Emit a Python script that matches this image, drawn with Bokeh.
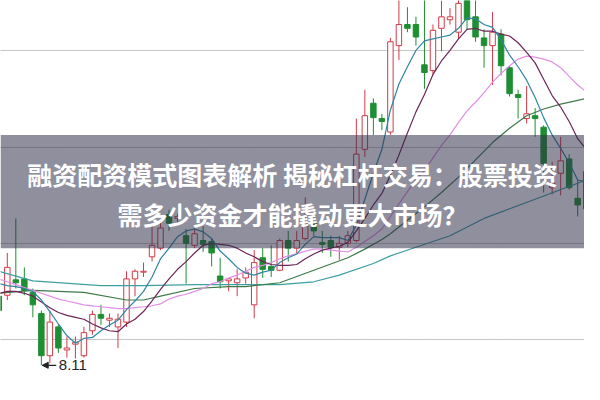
from bokeh.plotting import figure
from bokeh.models import (Range1d, FixedTicker, BoxAnnotation, Label, Arrow,
                          NormalHead, ColumnDataSource)
from bokeh.embed import file_html
from bokeh.resources import INLINE

# ---------------- data (daily candles) ----------------
day = list(range(70))
open_ = [8.83, 8.84, 9.00, 9.01, 8.87, 8.65, 8.21, 8.51, 8.27, 8.33,
         8.21, 8.47, 8.64, 8.58, 8.51, 8.56, 9.01, 9.08, 9.24, 9.33,
         9.68, 9.64, 9.46, 9.36, 9.41, 9.40, 9.04, 8.99, 8.97, 9.02,
         8.74, 9.23, 9.14, 9.10, 9.41, 9.33, 9.43, 9.59, 9.39, 9.41,
         9.34, 9.38, 9.41, 10.36, 10.84, 10.68, 10.54, 11.44, 11.66, 11.66,
         11.24, 11.18, 11.62, 11.71, 11.58, 11.96, 11.74, 11.52, 11.44, 11.56,
         11.21, 10.93, 10.68, 10.71, 10.59, 9.96, 10.11, 10.26, 9.85, 9.74]
high = [8.91, 9.28, 9.64, 9.13, 8.91, 8.68, 8.68, 8.54, 8.41, 8.41,
        8.51, 8.68, 8.74, 8.65, 8.65, 9.09, 9.11, 9.18, 9.58, 9.61,
        9.73, 9.69, 9.53, 9.54, 9.56, 9.43, 9.23, 9.02, 9.11, 9.13,
        9.31, 9.33, 9.36, 9.43, 9.51, 9.51, 9.86, 9.68, 9.51, 9.46,
        9.46, 9.51, 10.68, 10.98, 10.89, 10.73, 11.52, 11.96, 11.84, 11.74,
        12.01, 11.66, 11.91, 11.83, 11.96, 12.01, 11.96, 11.61, 11.79, 11.61,
        11.23, 10.98, 11.02, 10.79, 10.61, 10.23, 10.49, 10.31, 10.04, 10.21]
low = [8.61, 8.79, 8.91, 8.84, 8.61, 8.11, 8.13, 8.24, 8.19, 8.18,
       8.19, 8.43, 8.53, 8.51, 8.29, 8.51, 8.83, 9.03, 9.19, 9.31,
       9.51, 9.58, 8.96, 9.33, 9.29, 9.14, 8.91, 8.88, 8.83, 8.96,
       8.60, 9.02, 9.03, 9.09, 9.19, 9.28, 9.41, 9.46, 9.28, 9.24,
       9.21, 9.34, 9.39, 10.28, 10.51, 10.56, 10.51, 11.29, 11.58, 11.44,
       10.99, 11.14, 11.38, 11.66, 11.51, 11.61, 11.48, 11.21, 11.03, 11.13,
       10.91, 10.68, 10.63, 10.49, 9.91, 9.89, 9.88, 9.94, 9.66, 9.71]
close = [8.68, 9.13, 8.97, 8.89, 8.74, 8.21, 8.56, 8.29, 8.29, 8.35,
         8.45, 8.64, 8.60, 8.60, 8.59, 9.01, 9.09, 9.09, 9.36, 9.54,
         9.59, 9.66, 9.38, 9.48, 9.37, 9.28, 8.98, 9.01, 9.01, 9.08,
         9.18, 9.11, 9.10, 9.41, 9.33, 9.41, 9.59, 9.51, 9.37, 9.34,
         9.38, 9.46, 10.31, 10.71, 10.69, 10.65, 11.48, 11.66, 11.62, 11.53,
         11.16, 11.60, 11.74, 11.74, 11.88, 11.71, 11.53, 11.44, 11.58, 11.23,
         10.94, 10.90, 10.73, 10.68, 10.21, 10.01, 10.24, 9.96, 9.78, 10.13]

# moving-average lines
ma5 = [8.96, 8.94, 8.93, 8.91, 8.88, 8.79, 8.67, 8.54, 8.42, 8.34,
       8.39, 8.40, 8.47, 8.53, 8.58, 8.69, 8.78, 8.88, 9.03, 9.22,
       9.33, 9.45, 9.51, 9.53, 9.50, 9.43, 9.30, 9.22, 9.13, 9.07,
       9.05, 9.08, 9.10, 9.18, 9.23, 9.27, 9.37, 9.45, 9.44, 9.44,
       9.44, 9.41, 9.57, 9.84, 10.11, 10.36, 10.77, 11.04, 11.22, 11.39,
       11.49, 11.51, 11.53, 11.55, 11.62, 11.73, 11.72, 11.66, 11.63, 11.50,
       11.34, 11.22, 11.08, 10.90, 10.69, 10.51, 10.37, 10.22, 10.04, 10.02]
ma10 = [8.86, 8.88, 8.88, 8.86, 8.83, 8.77, 8.71, 8.66, 8.63, 8.61,
        8.59, 8.54, 8.50, 8.47, 8.46, 8.54, 8.59, 8.67, 8.78, 8.90,
        9.01, 9.11, 9.19, 9.28, 9.36, 9.38, 9.37, 9.36, 9.33, 9.28,
        9.24, 9.19, 9.16, 9.15, 9.15, 9.16, 9.22, 9.27, 9.31, 9.33,
        9.35, 9.39, 9.51, 9.64, 9.78, 9.90, 10.09, 10.30, 10.53, 10.75,
        10.93, 11.14, 11.28, 11.39, 11.51, 11.61, 11.62, 11.59, 11.59, 11.56,
        11.54, 11.47, 11.37, 11.26, 11.09, 10.92, 10.80, 10.65, 10.47, 10.36]
ma20 = [9.01, 8.98, 8.95, 8.92, 8.89, 8.86, 8.83, 8.80, 8.78, 8.76,
        8.74, 8.73, 8.72, 8.71, 8.70, 8.70, 8.71, 8.72, 8.73, 8.75,
        8.80, 8.83, 8.85, 8.88, 8.91, 8.96, 8.98, 9.02, 9.05, 9.09,
        9.13, 9.15, 9.18, 9.22, 9.25, 9.27, 9.30, 9.32, 9.32, 9.31,
        9.30, 9.29, 9.34, 9.40, 9.46, 9.53, 9.66, 9.79, 9.92, 10.04,
        10.14, 10.27, 10.40, 10.51, 10.64, 10.76, 10.85, 10.95, 11.06, 11.15,
        11.23, 11.30, 11.33, 11.32, 11.30, 11.27, 11.21, 11.12, 11.03, 10.96]
ma30_day = [0, 4, 10, 15, 17, 19, 23, 27, 29, 33, 37, 41, 43, 45, 46, 48, 50,
            52, 54, 56, 58, 60, 62, 64, 66, 68, 69]
ma30 = [8.86, 8.89, 8.87, 8.79, 8.79, 8.83, 8.91, 8.93, 8.93, 8.97, 9.10,
        9.23, 9.32, 9.42, 9.48, 9.62, 9.76, 9.91, 10.07, 10.25, 10.43, 10.58,
        10.71, 10.78, 10.83, 10.87, 10.89]
ma60_day = [0, 4, 12, 17, 23, 29, 33, 37, 40, 44, 46, 49, 53, 57, 63, 69]
ma60 = [9.09, 8.99, 8.94, 8.94, 8.95, 8.95, 8.95, 8.98, 9.05, 9.17, 9.25,
        9.34, 9.46, 9.64, 9.84, 10.04]

grid_levels = [8.38, 9.38, 10.38, 11.39]
title_lines = ["融资配资模式图表解析 揭秘杠杆交易：股票投资",
               "需多少资金才能撬动更大市场？"]

# ---------------- layout constants ----------------
X_LEFT, X_RIGHT = 0.2, 68.8
Y_BOT, Y_TOP = 7.91, 11.91
REF_H = 400.0


def y_at(px):
    return Y_TOP - px / REF_H * (Y_TOP - Y_BOT)


RED = "#d23a47"
GREEN = "#1e8e32"

p = figure(width=584, height=384, output_backend="svg", toolbar_location=None,
           x_range=Range1d(X_LEFT, X_RIGHT), y_range=Range1d(Y_BOT, Y_TOP),
           min_border=0, background_fill_color="white",
           border_fill_color="white")
p.outline_line_color = None
p.xaxis.visible = False
p.yaxis.visible = False
p.xgrid.visible = False
p.ygrid.ticker = FixedTicker(ticks=grid_levels)
p.ygrid.grid_line_color = "#8c8c8c"
p.ygrid.grid_line_dash = "1 1"
p.ygrid.grid_line_width = 1

up = [c >= o for o, c in zip(open_, close)]
src = ColumnDataSource(dict(
    x=day, high=high, low=low,
    top=[max(o, c) for o, c in zip(open_, close)],
    bottom=[min(o, c) for o, c in zip(open_, close)],
    color=[RED if u else GREEN for u in up],
    fill=["white" if u else GREEN for u in up],
))
p.segment(x0="x", y0="high", x1="x", y1="low", line_color="color",
          line_width=1, source=src)
p.vbar(x="x", width=0.64, top="top", bottom="bottom", fill_color="fill",
       line_color="color", line_width=1, source=src)

p.line(ma60_day, ma60, line_color="#3c9fa2", line_width=1.2)
p.line(ma30_day, ma30, line_color="#3d7a48", line_width=1.2)
p.line(day, ma20, line_color="#e28fe6", line_width=1.2)
p.line(day, ma10, line_color="#6e2658", line_width=1.2)
p.line(day, ma5, line_color="#2f86a2", line_width=1.2)

# lowest-price marker
low_min = min(low)
low_idx = low.index(low_min)
p.add_layout(Arrow(end=NormalHead(size=6, fill_color="#222222",
                                  line_color="#222222"),
                   x_start=low_idx + 1.75, y_start=low_min,
                   x_end=low_idx + 0.1, y_end=low_min,
                   line_color="#222222", line_width=1.2))
p.add_layout(Label(x=low_idx + 2.05, y=low_min, text=f"{low_min:.2f}",
                   text_font="Liberation Sans", text_font_size="15px",
                   text_color="#222222", text_baseline="middle",
                   text_align="left"))

# title banner
p.add_layout(BoxAnnotation(top=y_at(140), bottom=y_at(258),
                           fill_color="#2d2b45", fill_alpha=0.53,
                           line_color=None, level="overlay"))
x_mid = (X_LEFT + X_RIGHT) / 2
for txt, py in zip(title_lines, [181, 222]):
    p.add_layout(Label(x=x_mid, y=y_at(py), text=txt,
                       text_font="Noto Sans CJK SC", text_font_size="25px",
                       text_font_style="bold", text_color="white",
                       text_align="center", text_baseline="middle",
                       level="overlay"))

open("out.html", "w").write(file_html(p, INLINE))
